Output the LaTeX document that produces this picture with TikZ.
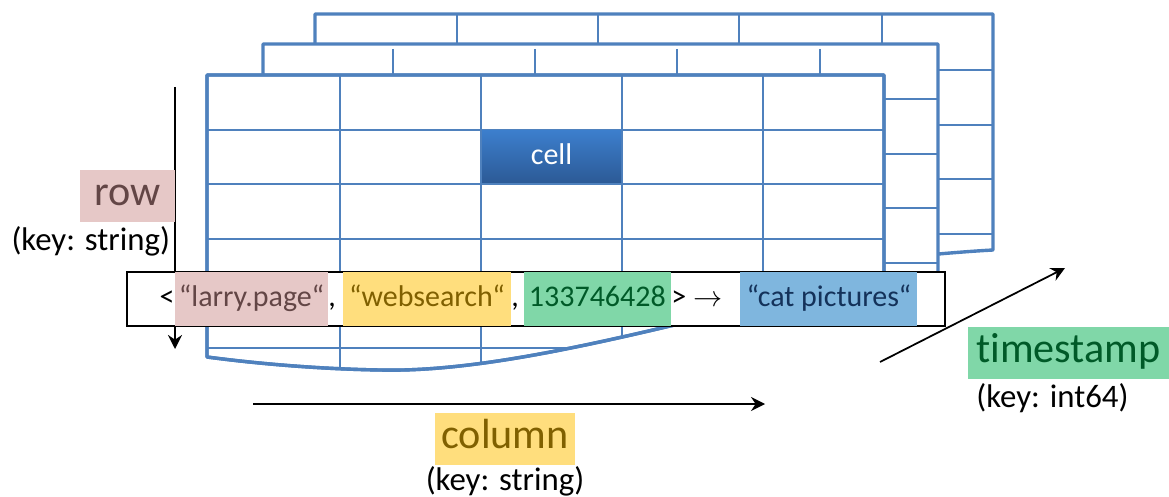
\documentclass[tikz,border=0pt]{standalone}
\usepackage{fontspec}
\setmainfont{Carlito}[Ligatures=NoCommon]
\usetikzlibrary{positioning,arrows.meta}

\definecolor{sheetblue}{RGB}{79,129,189}
\definecolor{cellhi}{RGB}{60,126,204}
\definecolor{celllo}{RGB}{44,90,150}
\definecolor{rowpink}{RGB}{230,200,199}
\definecolor{rowtext}{RGB}{99,70,70}
\definecolor{colyellow}{RGB}{255,222,125}
\definecolor{coltext}{RGB}{128,96,0}
\definecolor{tsgreen}{RGB}{128,215,168}
\definecolor{tstext}{RGB}{0,90,40}
\definecolor{valblue}{RGB}{127,182,222}
\definecolor{valtext}{RGB}{20,50,90}

\tikzset{
  sheetedge/.style={draw=sheetblue, line width=2.9pt, line join=round, fill=white},
  gridline/.style={draw=sheetblue, line width=1.7pt},
  axis/.style={draw=black, line width=1.5pt, -{Stealth[length=12pt,width=12pt,inset=4pt]}},
  bigkey/.style={inner sep=0pt, minimum height=15.6mm, text height=25pt, text depth=8pt, font=\fontsize{36}{40}\selectfont},
  keynote/.style={inner sep=0pt, text height=21pt, text depth=7pt, font=\fontsize{28}{32}\selectfont},
  keypart/.style={inner sep=0pt, minimum height=16mm, text height=18pt, text depth=6pt, font=\fontsize{25.6}{30}\selectfont},
  keybox/.style={draw=black, fill=white, line width=1.6pt, inner sep=0pt, minimum width=245.4mm, minimum height=16.2mm},
  cellbox/.style={keypart, minimum width=41.7mm, minimum height=15.6mm, top color=cellhi, bottom color=celllo, text=white},
}

\begin{document}
\begin{tikzpicture}[x=0.3mm, y=-0.3mm]
    \useasboundingbox (0,0) rectangle (1169,497);

    % back sheet
    \draw[sheetedge] (315,14) -- (993,14) -- (993,250) .. controls (900,255) and (700,280) .. (600,285)
        .. controls (450,292) and (360,285) .. (315,280) -- cycle;
    \begin{scope}
        \clip (315,14) -- (993,14) -- (993,250) .. controls (900,255) and (700,280) .. (600,285)
            .. controls (450,292) and (360,285) .. (315,280) -- cycle;
        \foreach \x in {457, 598, 739, 882}
            \draw[gridline] (\x,14) -- (\x,300);
        \foreach \y in {70, 125, 179, 234}
            \draw[gridline] (315,\y) -- (993,\y);
    \end{scope}

    % middle sheet
    \draw[sheetedge] (263,44) -- (938,44) -- (938,300) .. controls (800,305) and (700,320) .. (600,325)
        .. controls (450,335) and (330,330) .. (263,320) -- cycle;
    \begin{scope}
        \clip (263,44) -- (938,44) -- (938,300) .. controls (800,305) and (700,320) .. (600,325)
            .. controls (450,335) and (330,330) .. (263,320) -- cycle;
        \foreach \x in {393, 535, 677, 820}
            \draw[gridline] (\x,49) -- (\x,340);
        \foreach \y in {99, 154, 208, 263}
            \draw[gridline] (263,\y) -- (938,\y);
    \end{scope}

    % front sheet
    \draw[sheetedge] (207,75) -- (884,75) -- (884,292) .. controls (800,300) and (720,315) .. (670,326)
        .. controls (560,352) and (460,372) .. (380,370) .. controls (320,369) and (260,364) .. (207,357) -- cycle;
    \begin{scope}
        \clip (207,75) -- (884,75) -- (884,292) .. controls (800,300) and (720,315) .. (670,326)
            .. controls (560,352) and (460,372) .. (380,370) .. controls (320,369) and (260,364) .. (207,357) -- cycle;
        \foreach \x in {340, 481, 622, 763}
            \draw[gridline] (\x,75) -- (\x,380);
        \foreach \y in {130, 184, 239, 293, 348}
            \draw[gridline] (207,\y) -- (884,\y);
    \end{scope}
    \draw[sheetedge, fill=none] (207,75) -- (884,75) -- (884,292) .. controls (800,300) and (720,315) .. (670,326)
        .. controls (560,352) and (460,372) .. (380,370) .. controls (320,369) and (260,364) .. (207,357) -- cycle;

    \node[cellbox] (cell) at (551.5,157) {cell};

    % axes
    \coordinate (rowtop) at (175,87);
    \coordinate (rowend) at (175,349);
    \draw[axis] (rowtop) -- (rowend);
    \coordinate (colstart) at (253,404);
    \coordinate (colend) at (765,404);
    \draw[axis] (colstart) -- (colend);
    \coordinate (tsstart) at (880,362);
    \coordinate (tsend) at (1065,268);
    \draw[axis] (tsstart) -- (tsend);

    % the key -> value line
    \node[keybox] (keyline) at (536,299) {};
    \node[keypart, fill=rowpink, text=rowtext, minimum width=45.9mm] (rowkey) at (251.5,299) {“larry.page“};
    \node[keypart, left=0pt of rowkey] (lt) {<};
    \node[keypart, right=0pt of rowkey] (sepa) {,\kern5.6pt};
    \node[keypart, fill=colyellow, text=coltext, minimum width=50.4mm, right=0pt of sepa] (colkey) {“websearch“};
    \node[keypart, right=0pt of colkey] (sepb) {,\kern3.8pt};
    \node[keypart, fill=tsgreen, text=tstext, minimum width=44.1mm, right=0pt of sepb] (tskey) {133746428};
    \node[keypart, right=0pt of tskey] (gt) {>\kern6.5pt{\fontsize{24}{28}\selectfont$\rightarrow$}\kern14.5pt};
    \node[keypart, fill=valblue, text=valtext, minimum width=53.1mm, right=0pt of gt] (valkey) {“cat pictures“};

    % labels
    \node[bigkey, fill=rowpink, text=rowtext, minimum width=28.5mm] (rowlbl) at (127.5,196) {row};
    \node[keynote, anchor=north east] (rownote) at ([xshift=-1.5mm,yshift=-1mm]rowlbl.south east) {(key: string)};
    \node[bigkey, fill=colyellow, text=coltext, minimum width=42mm] (collbl) at (505,438.5) {column};
    \node[keynote, below=0.2mm of collbl] (colnote) {(key: string)};
    \node[bigkey, fill=tsgreen, text=tstext, minimum width=60.3mm] (tslbl) at (1068.5,353) {timestamp};
    \node[keynote, anchor=north west] (tsnote) at ([xshift=2.5mm,yshift=-1mm]tslbl.south west) {(key: int64)};
\end{tikzpicture}
\end{document}
